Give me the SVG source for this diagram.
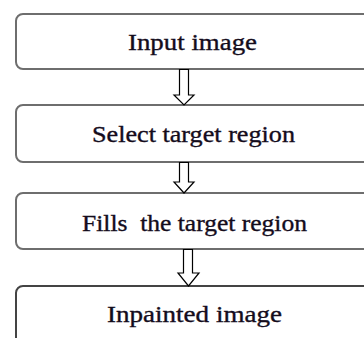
<svg xmlns="http://www.w3.org/2000/svg" width="364" height="338" viewBox="0 0 364 338">
<style>
.box{fill:#fff;stroke:#6e6e6e;stroke-width:2}
.lbl{font-family:"Liberation Serif","Times New Roman",serif;font-size:23px;fill:#140c1c;stroke:#140c1c;stroke-width:0.35;text-anchor:middle}
.arr{fill:#fff;stroke:#000;stroke-width:1.2}
</style>
<rect width="364" height="338" fill="#fff"/>
<g id="n1"><rect class="box" x="16" y="14" width="370" height="55" rx="7"/><text class="lbl" x="192.5" y="50" textLength="129" lengthAdjust="spacingAndGlyphs">Input image</text></g>
<g id="n2"><rect class="box" x="16" y="105" width="370" height="57" rx="7"/><text class="lbl" x="193.5" y="142" textLength="203" lengthAdjust="spacingAndGlyphs">Select target region</text></g>
<g id="n3"><rect class="box" x="16" y="193" width="370" height="56" rx="7"/><text class="lbl" x="194.5" y="231" textLength="225" lengthAdjust="spacingAndGlyphs" xml:space="preserve">Fills  the target region</text></g>
<g id="n4"><rect class="box" x="16" y="286" width="370" height="80" rx="7" style="stroke:#444"/><text class="lbl" x="194.5" y="322" textLength="175" lengthAdjust="spacingAndGlyphs">Inpainted image</text></g>
<g id="connectors">
<polygon class="arr" points="179.5,69.5 188.5,69.5 188.5,95 194,95 184,105 174,95 179.5,95"/>
<polygon class="arr" points="179.5,162.5 188.5,162.5 188.5,182 194,182 184,193 174,182 179.5,182"/>
<polygon class="arr" points="183.5,249.5 192.5,249.5 192.5,273 199,273 188.5,286 178,273 183.5,273"/>
</g>
</svg>
